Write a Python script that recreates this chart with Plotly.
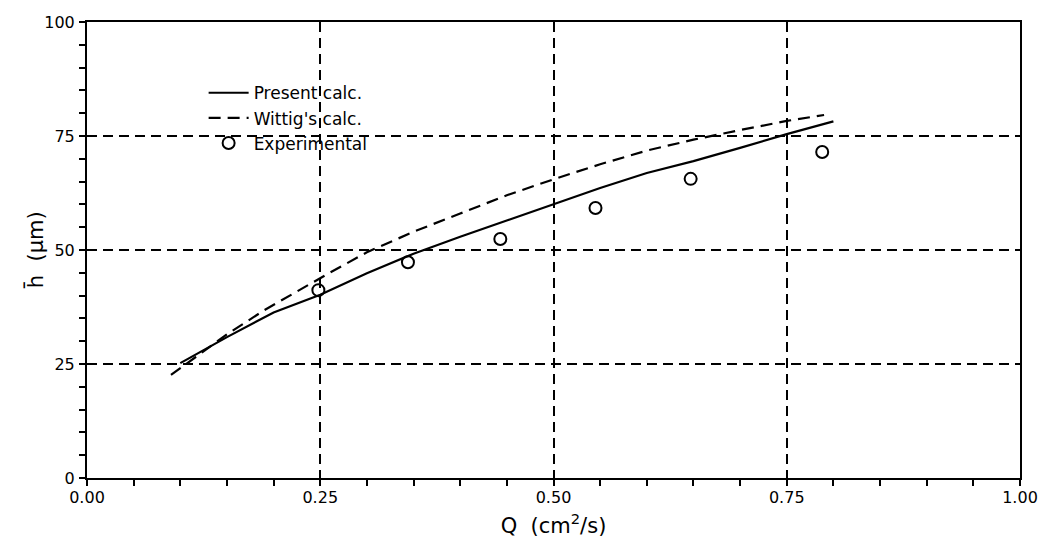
import plotly.graph_objects as go

# Present calculation (solid)
present_x = [0.10, 0.15, 0.20, 0.25, 0.30, 0.35, 0.40, 0.45, 0.50, 0.55, 0.60, 0.65, 0.70, 0.75, 0.80]
present_y = [25.2, 30.9, 36.3, 40.2, 44.9, 49.2, 52.9, 56.5, 60.0, 63.6, 66.9, 69.5, 72.4, 75.4, 78.2]

# Wittig's calculation (dashed)
wittig_x = [0.09, 0.12, 0.15, 0.19, 0.23, 0.26, 0.30, 0.35, 0.40, 0.45, 0.50, 0.55, 0.60, 0.65, 0.70, 0.75, 0.79]
wittig_y = [22.6, 27.0, 31.5, 36.8, 41.5, 45.0, 49.5, 54.0, 58.0, 62.0, 65.5, 68.8, 71.8, 74.2, 76.3, 78.3, 79.6]

# Experimental points
exp_x = [0.248, 0.344, 0.443, 0.545, 0.647, 0.788]
exp_y = [41.2, 47.3, 52.4, 59.2, 65.6, 71.5]

x_ticks = [0.0, 0.25, 0.5, 0.75, 1.0]
x_ticklabels = ["0.00", "0.25", "0.50", "0.75", "1.00"]
y_ticks = [0, 25, 50, 75, 100]
y_ticklabels = ["0", "25", "50", "75", "100"]

FONT = "DejaVu Sans"

fig = go.Figure()
fig.add_trace(go.Scatter(x=present_x, y=present_y, mode="lines", name="Present calc.",
                         line=dict(color="black", width=2.2)))
fig.add_trace(go.Scatter(x=wittig_x, y=wittig_y, mode="lines", name="Wittig's calc.",
                         line=dict(color="black", width=2.2, dash="12px,7px")))
fig.add_trace(go.Scatter(x=exp_x, y=exp_y, mode="markers", name="Experimental",
                         marker=dict(symbol="circle-open", size=12, color="black",
                                     line=dict(color="black", width=2))))

axis_common = dict(
    showline=True, linecolor="black", linewidth=2, mirror=True,
    showgrid=True, gridcolor="black", gridwidth=2, griddash="10px,6px",
    zeroline=False, ticks="outside", ticklen=6, tickwidth=2, tickcolor="black",
    tickfont=dict(family=FONT, size=16, color="black"),
    ticklabeloverflow="allow", automargin=False,
)

fig.update_xaxes(
    range=[0, 1], tickmode="array", tickvals=x_ticks, ticktext=x_ticklabels,
    minor=dict(dtick=0.05, ticks="outside", ticklen=6, tickwidth=2, tickcolor="black", showgrid=False),
    ticklabelstandoff=-2,
    title=dict(text="Q\u00a0\u00a0(cm<sup>2</sup>/s)", font=dict(family=FONT, size=21, color="black"),
               standoff=12),
    **axis_common,
)
fig.update_yaxes(
    range=[0, 100], tickmode="array", tickvals=y_ticks, ticktext=y_ticklabels,
    minor=dict(dtick=5, ticks="outside", ticklen=6, tickwidth=2, tickcolor="black", showgrid=False),
    ticklabelstandoff=1,
    **axis_common,
)

fig.update_layout(
    width=1038, height=542,
    margin=dict(l=87, r=18, t=22, b=64),
    plot_bgcolor="white", paper_bgcolor="white",
    font=dict(family=FONT, color="black"),
    legend=dict(x=0.125, y=0.789, xanchor="left", yanchor="middle",
                bgcolor="rgba(0,0,0,0)", borderwidth=0,
                font=dict(family=FONT, size=17, color="black"),
                tracegroupgap=0, itemwidth=40),
    annotations=[dict(
        text="h\u0304\u00a0\u00a0(\u03bcm)", textangle=-90,
        xref="paper", yref="paper", x=-0.0557, y=0.5,
        xanchor="center", yanchor="middle", showarrow=False,
        font=dict(family=FONT, size=21, color="black"),
    )],
)

fig.write_html("out.html")
